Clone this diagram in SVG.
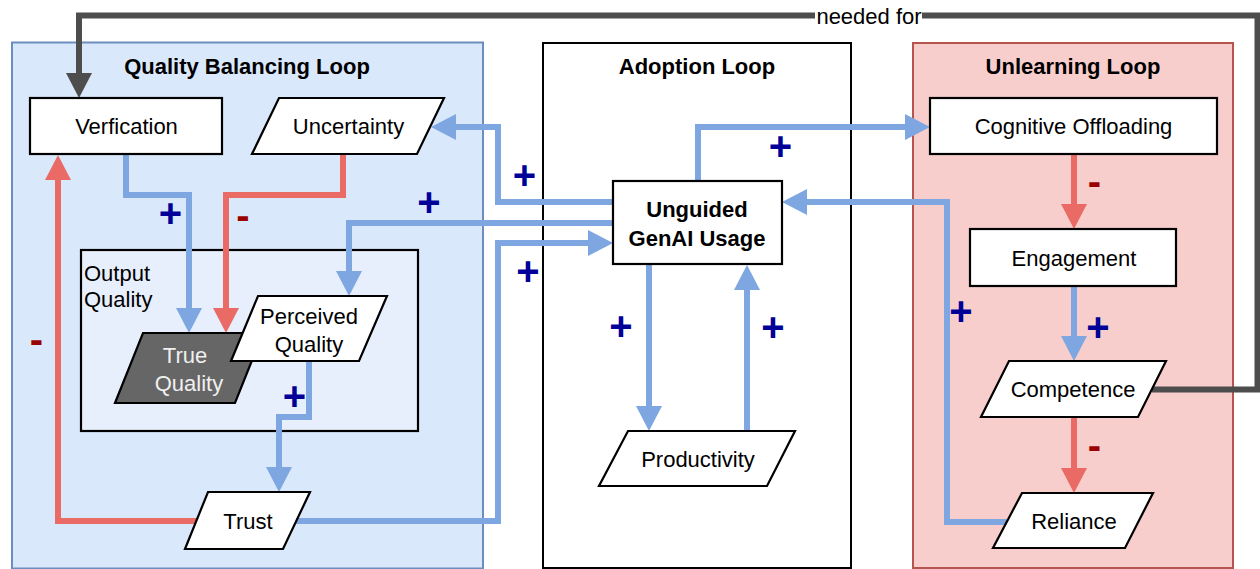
<svg xmlns="http://www.w3.org/2000/svg" width="1260" height="569" viewBox="0 0 1260 569">
<style>
.t{font-family:"Liberation Sans",Arial,sans-serif;font-size:22px;fill:#000;text-anchor:middle}
.tl{font-family:"Liberation Sans",Arial,sans-serif;font-size:22px;fill:#000}
.title{font-family:"Liberation Sans",Arial,sans-serif;font-size:22px;font-weight:bold;fill:#000;text-anchor:middle}
.node{fill:#fff;stroke:#000;stroke-width:2.2}
.b{fill:none;stroke:#7ea6e0;stroke-width:6;stroke-linejoin:miter}
.r{fill:none;stroke:#ea6b66;stroke-width:6;stroke-linejoin:miter}
.g{fill:none;stroke:#4d4d4d;stroke-width:6;stroke-linejoin:miter}
.p{font-family:"Liberation Sans",Arial,sans-serif;font-size:40px;font-weight:bold;fill:#000099;text-anchor:middle}
.m{font-family:"Liberation Sans",Arial,sans-serif;font-size:40px;font-weight:bold;fill:#990000;text-anchor:middle}
</style>
<defs>
<marker id="ab" markerUnits="userSpaceOnUse" markerWidth="25" markerHeight="26" viewBox="0 0 25 26" refX="0" refY="13" orient="auto"><path d="M0,0 L25,13 L0,26 Z" fill="#7ea6e0"/></marker>
<marker id="ar" markerUnits="userSpaceOnUse" markerWidth="25" markerHeight="26" viewBox="0 0 25 26" refX="0" refY="13" orient="auto"><path d="M0,0 L25,13 L0,26 Z" fill="#ea6b66"/></marker>
<marker id="ag" markerUnits="userSpaceOnUse" markerWidth="25" markerHeight="26" viewBox="0 0 25 26" refX="0" refY="13" orient="auto"><path d="M0,0 L25,13 L0,26 Z" fill="#4d4d4d"/></marker>
</defs>

<g id="quality-loop">
<rect x="12" y="42.5" width="471" height="526" fill="#dae8fc" stroke="#6c8ebf" stroke-width="2"/>
<text class="title" x="247" y="74">Quality Balancing Loop</text>
</g>
<g id="adoption-loop">
<rect x="543" y="43" width="308" height="525" fill="#fff" stroke="#000" stroke-width="2"/>
<text class="title" x="697" y="74">Adoption Loop</text>
</g>
<g id="unlearning-loop">
<rect x="913" y="43" width="320" height="525" fill="#f8cecc" stroke="#b85450" stroke-width="2"/>
<text class="title" x="1073" y="74">Unlearning Loop</text>
</g>
<g id="output-quality">
<rect x="81" y="250" width="337" height="181" fill="#e8effc" stroke="#000" stroke-width="2.2"/>
<text class="tl" x="84" y="281">Output</text>
<text class="tl" x="84" y="307">Quality</text>
</g>

<g id="connectors">
<path class="g" d="M1152,389.5 H1257.5 V15.5 H79 V73" marker-end="url(#ag)"/>
<rect x="815" y="5" width="107" height="24" fill="#fff"/>
<text class="t" x="869" y="24">needed for</text>
<path class="b" d="M126,154 V195 H189 V308" marker-end="url(#ab)"/>
<path class="r" d="M343,155 V195 H226 V308" marker-end="url(#ar)"/>
<path class="b" d="M613,223 H349 V271" marker-end="url(#ab)"/>
<path class="b" d="M613,202 H498 V127 H456" marker-end="url(#ab)"/>
<path class="b" d="M296,521 H498 V243 H588" marker-end="url(#ab)"/>
<path class="b" d="M309,361 V417 H279 V467" marker-end="url(#ab)"/>
<path class="r" d="M197,521 H58 V180" marker-end="url(#ar)"/>
<path class="b" d="M649,264 V406" marker-end="url(#ab)"/>
<path class="b" d="M747,431 V290" marker-end="url(#ab)"/>
<path class="b" d="M698,181 V127 H905" marker-end="url(#ab)"/>
<path class="b" d="M1007,522 H947 V202 H807" marker-end="url(#ab)"/>
<path class="r" d="M1074,154 V204" marker-end="url(#ar)"/>
<path class="b" d="M1074,286 V336" marker-end="url(#ab)"/>
<path class="r" d="M1074,417 V468" marker-end="url(#ar)"/>
<text class="p" x="170.5" y="227">+</text>
<text class="m" x="243" y="229">-</text>
<text class="p" x="429" y="215.5">+</text>
<text class="p" x="524.5" y="188.5">+</text>
<text class="p" x="528" y="284.5">+</text>
<text class="p" x="294.5" y="409.5">+</text>
<text class="m" x="36.5" y="353">-</text>
<text class="p" x="621" y="339.5">+</text>
<text class="p" x="773" y="340.5">+</text>
<text class="p" x="780.5" y="159.5">+</text>
<text class="p" x="961" y="325">+</text>
<text class="m" x="1094.5" y="195">-</text>
<text class="p" x="1098" y="340.5">+</text>
<text class="m" x="1094.5" y="458.5">-</text>
</g>

<g id="verfication">
<rect class="node" x="30" y="98" width="192" height="56"/>
<text class="t" x="126.5" y="134">Verfication</text>
</g>
<g id="uncertainty">
<polygon class="node" points="279,98 444,98 417,154 252,154"/>
<text class="t" x="348.5" y="134">Uncertainty</text>
</g>
<g id="true-quality">
<polygon points="143,333 263,333 235,403 115,403" fill="#666666" stroke="#000" stroke-width="2.2"/>
<text class="t" x="185" y="363" style="fill:#f0f0f0">True</text>
<text class="t" x="189" y="391" style="fill:#f0f0f0">Quality</text>
</g>
<g id="perceived-quality">
<polygon class="node" points="258,296 387,296 359,361 231,361"/>
<text class="t" x="309" y="324">Perceived</text>
<text class="t" x="309" y="352">Quality</text>
</g>
<g id="trust">
<polygon class="node" points="208,492 310,492 283,549 185,549"/>
<text class="t" x="248" y="529">Trust</text>
</g>
<g id="unguided-genai-usage">
<rect class="node" x="613" y="181" width="169" height="83"/>
<text class="title" x="697" y="217">Unguided</text>
<text class="title" x="697" y="246">GenAI Usage</text>
</g>
<g id="productivity">
<polygon class="node" points="628,431 795,431 767,486 599,486"/>
<text class="t" x="698" y="467">Productivity</text>
</g>
<g id="cognitive-offloading">
<rect class="node" x="930" y="98" width="287" height="56"/>
<text class="t" x="1073.5" y="134">Cognitive Offloading</text>
</g>
<g id="engagement">
<rect class="node" x="970" y="229" width="206" height="57"/>
<text class="t" x="1074" y="266">Engagement</text>
</g>
<g id="competence">
<polygon class="node" points="1009,361 1166,361 1138,417 981,417"/>
<text class="t" x="1073" y="397">Competence</text>
</g>
<g id="reliance">
<polygon class="node" points="1022,493 1153,493 1125,548 993,548"/>
<text class="t" x="1074" y="529">Reliance</text>
</g>
</svg>
